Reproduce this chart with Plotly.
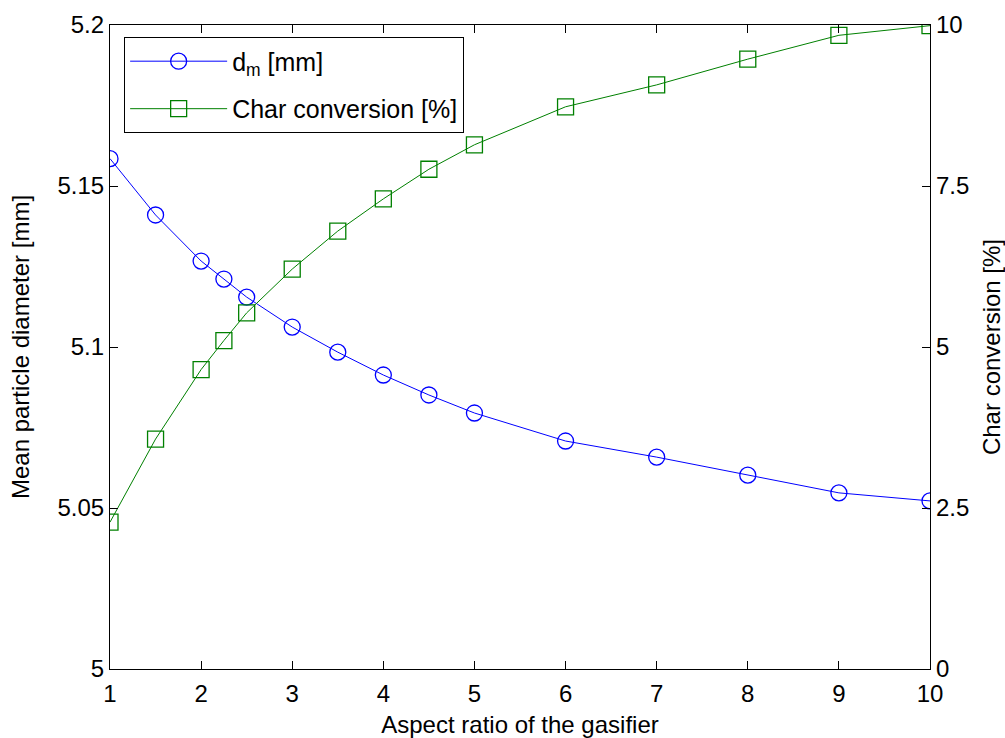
import plotly.graph_objects as go

aspect_ratio = [1, 1.5, 2, 2.25, 2.5, 3, 3.5, 4, 4.5, 5, 6, 7, 8, 9, 10]
dm_mm = [5.1585, 5.141, 5.1267, 5.1211, 5.1155, 5.1062, 5.0984, 5.0913, 5.0851,
         5.0795, 5.0708, 5.0658, 5.0602, 5.0547, 5.0522]
char_conv = [2.28, 3.57, 4.65, 5.10, 5.53, 6.21, 6.80, 7.30, 7.76, 8.14, 8.73,
             9.07, 9.47, 9.84, 9.99]

x_ticks = [1, 2, 3, 4, 5, 6, 7, 8, 9, 10]
y_left_ticks = [5, 5.05, 5.1, 5.15, 5.2]
y_left_text = ["5", "5.05", "5.1", "5.15", "5.2"]
y_right_ticks = [0, 2.5, 5, 7.5, 10]
y_right_text = ["0", "2.5", "5", "7.5", "10"]

FONT = "Liberation Sans, Arial, sans-serif"
TICK_SIZE = 24
TITLE_SIZE = 24
LEGEND_SIZE = 25

fig = go.Figure()
fig.add_trace(go.Scatter(
    x=aspect_ratio, y=dm_mm, name="d<sub>m</sub> [mm]",
    mode="lines+markers", legendgroup="g1",
    line=dict(color="#0000FF", width=1),
    marker=dict(symbol="circle-open", size=16, color="#0000FF", line=dict(width=1.3)),
    yaxis="y",
))
fig.add_trace(go.Scatter(
    x=aspect_ratio, y=char_conv, name="Char conversion [%]",
    mode="lines+markers", legendgroup="g2",
    line=dict(color="#008000", width=1),
    marker=dict(symbol="square-open", size=16, color="#008000", line=dict(width=1.3)),
    yaxis="y2",
))

axis_common = dict(
    showline=True, linecolor="black", linewidth=1.2,
    ticks="inside", ticklen=8, tickcolor="black", tickwidth=1,
    showgrid=False, zeroline=False, automargin=False,
    tickfont=dict(family=FONT, size=TICK_SIZE, color="black"),
)

fig.update_layout(
    width=1005, height=738,
    margin=dict(l=110, r=75, t=25, b=69),
    paper_bgcolor="white", plot_bgcolor="white",
    font=dict(family=FONT, size=TICK_SIZE, color="black"),
    showlegend=True,
    legend=dict(
        x=0.017, y=0.981, xanchor="left", yanchor="top",
        bordercolor="black", borderwidth=1.2, bgcolor="white",
        font=dict(family=FONT, size=LEGEND_SIZE, color="black"),
        itemwidth=97, traceorder="grouped", tracegroupgap=12,
    ),
    xaxis=dict(
        range=[1, 10], tickvals=x_ticks, ticktext=[str(v) for v in x_ticks],
        mirror="ticks", ticklabelstandoff=3,
        title=dict(text="Aspect ratio of the gasifier", standoff=13,
                   font=dict(family=FONT, size=TITLE_SIZE, color="black")),
        **axis_common,
    ),
    yaxis=dict(
        range=[5, 5.2], tickvals=y_left_ticks, ticktext=y_left_text,
        title=dict(text="Mean particle diameter [mm]", standoff=20,
                   font=dict(family=FONT, size=TITLE_SIZE, color="black")),
        **axis_common,
    ),
    yaxis2=dict(
        range=[0, 10], tickvals=y_right_ticks, ticktext=y_right_text,
        overlaying="y", side="right",
        title=dict(text="Char conversion [%]", standoff=16,
                   font=dict(family=FONT, size=TITLE_SIZE, color="black")),
        **axis_common,
    ),
)

fig.write_html("out.html")
